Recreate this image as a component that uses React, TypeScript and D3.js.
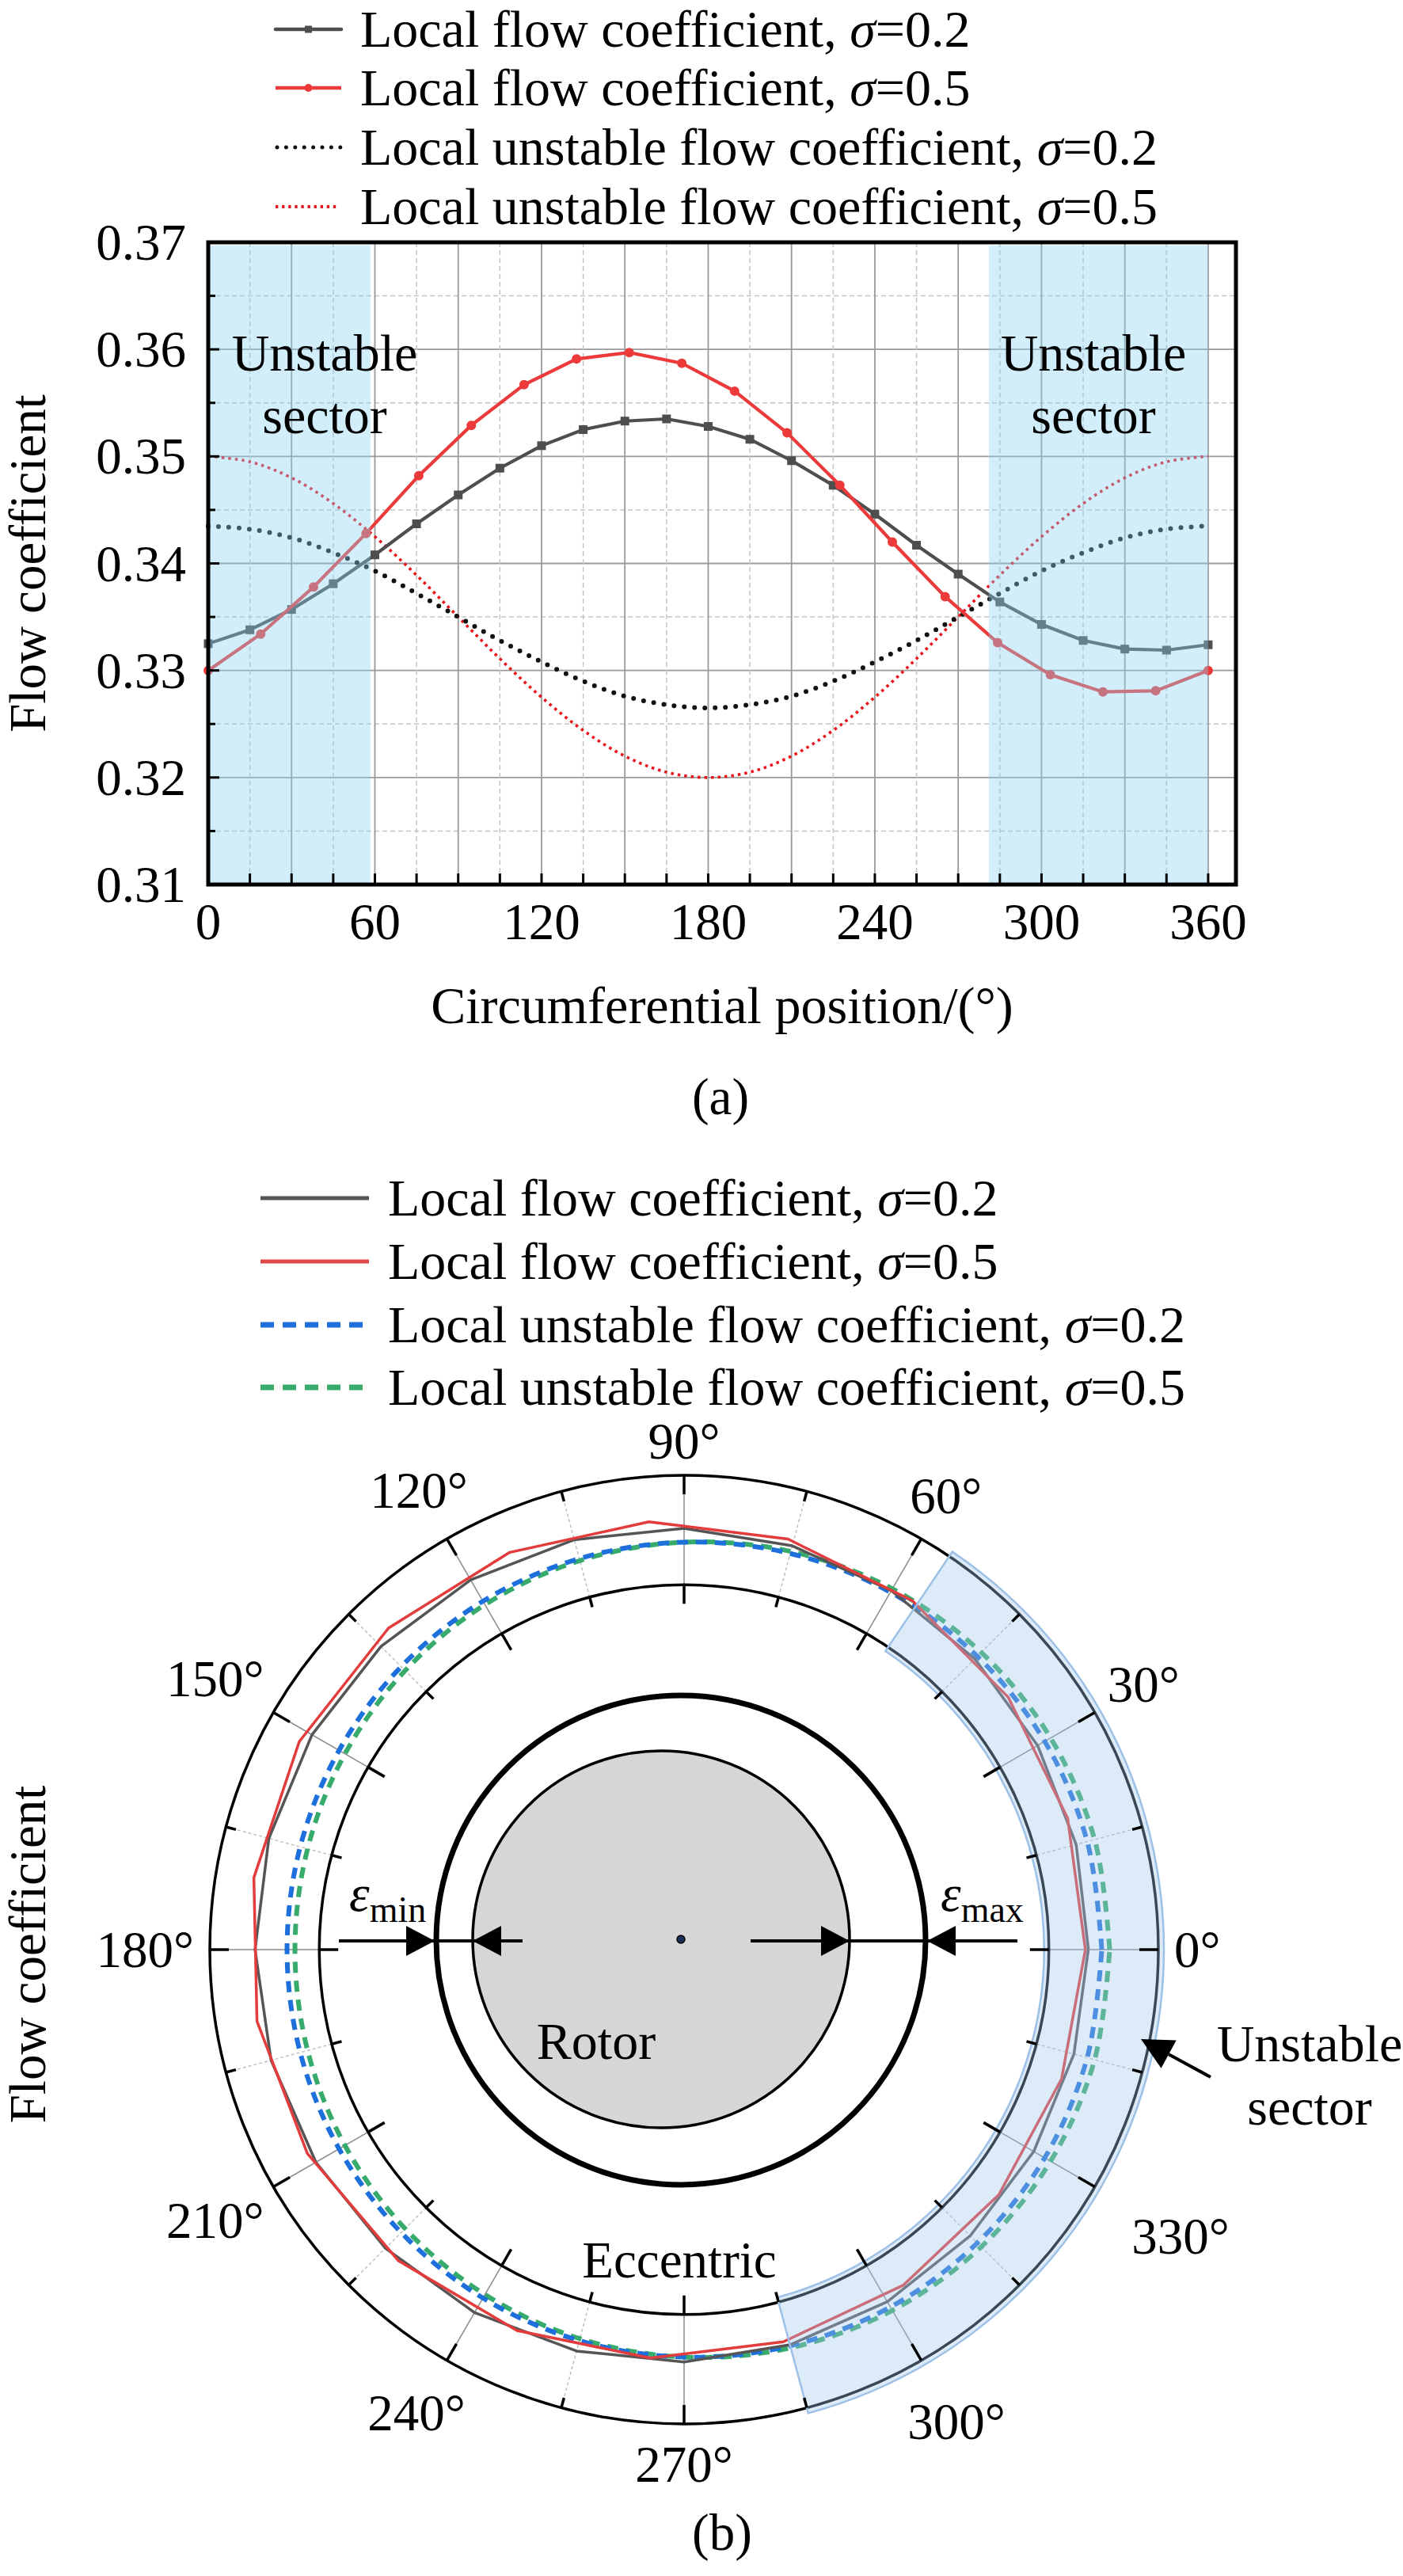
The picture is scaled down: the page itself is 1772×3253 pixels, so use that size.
import React from 'react';
import * as d3 from 'd3';

const FONT = "'Liberation Serif','Times New Roman',Times,serif";

// ---------- data ----------
const posStep15 = [0, 15, 30, 45, 60, 75, 90, 105, 120, 135, 150, 165, 180, 195, 210, 225, 240, 255, 270, 285, 300, 315, 330, 345, 360];
const posRed = [0, 18.9, 37.9, 56.8, 75.8, 94.7, 113.7, 132.6, 151.6, 170.5, 189.5, 208.4, 227.4, 246.3, 265.3, 284.2, 303.2, 322.1, 341.1, 360];
const flowSigma02 = [0.3325, 0.3338, 0.3357, 0.3381, 0.3408, 0.3437, 0.3464, 0.3489, 0.3510, 0.3525, 0.3533, 0.3535, 0.3528, 0.3516, 0.3496, 0.3473, 0.3446, 0.3417, 0.3390, 0.3364, 0.3343, 0.3328, 0.3320, 0.3319, 0.3324];
const flowSigma05 = [0.3300, 0.3334, 0.3378, 0.3428, 0.3482, 0.3529, 0.3567, 0.3591, 0.3597, 0.3587, 0.3561, 0.3522, 0.3473, 0.3420, 0.3369, 0.3326, 0.3296, 0.3280, 0.3281, 0.3300];
const unstableSigma02 = [0.3435, 0.3432, 0.3424, 0.3410, 0.3393, 0.3372, 0.3350, 0.3328, 0.3308, 0.3290, 0.3276, 0.3268, 0.3265, 0.3268, 0.3276, 0.3290, 0.3308, 0.3328, 0.3350, 0.3372, 0.3393, 0.3410, 0.3424, 0.3432, 0.3435];
const unstableSigma05 = [0.3500, 0.3495, 0.3480, 0.3456, 0.3425, 0.3389, 0.3350, 0.3311, 0.3275, 0.3244, 0.3220, 0.3205, 0.3200, 0.3205, 0.3220, 0.3244, 0.3275, 0.3311, 0.3350, 0.3389, 0.3425, 0.3456, 0.3480, 0.3495, 0.3500];

const yTicksA = [0.31, 0.32, 0.33, 0.34, 0.35, 0.36, 0.37];
const xTicksA = [0, 60, 120, 180, 240, 300, 360];
const sectorsA = [[0, 58.4], [281, 360]];
const sectorB = [-75, 56];
const polarLabelAngles = [0, 30, 60, 90, 120, 150, 180, 210, 240, 270, 300, 330];
const legendLabelsA = ['Local flow coefficient, ', 'Local flow coefficient, ', 'Local unstable flow coefficient, ', 'Local unstable flow coefficient, '];
const legendSigmas = ['0.2', '0.5', '0.2', '0.5'];

// ---------- layout ----------
const W = 1772;
const H = 3253;
const FS = 65;
const A = { left: 263, right: 1561, top: 306, bottom: 1117 };
const P = { cx: 864, cy: 2462, rOuter: 599 };

const C_BLACK = '#4e4e4e';
const C_RED = '#ec3a3a';
const C_BLUE = '#1d6fdb';
const C_GREEN = '#36ab6c';

const xA = d3.scaleLinear().domain([0, 370]).range([A.left, A.right]);
const yA = d3.scaleLinear().domain([0.31, 0.37]).range([A.bottom, A.top]);
const rP = d3.scaleLinear().domain([0, 0.39]).range([0, P.rOuter]);
const rInner = rP(0.30);

const toPairs = (xs: number[], ys: number[]) => xs.map((x, i) => [x, ys[i]] as [number, number]);

function LegendText({ x, y, label, sigma }: { x: number; y: number; label: string; sigma: string }) {
  return (
    <text x={x} y={y + 22} fontFamily={FONT} fontSize={66} fill="#000">
      {label}
      <tspan fontStyle="italic">σ</tspan>
      {'=' + sigma}
    </text>
  );
}

function ChartA() {
  const lineLin = d3.line<[number, number]>().x(d => xA(d[0])).y(d => yA(d[1]));
  const lineSmooth = d3.line<[number, number]>().x(d => xA(d[0])).y(d => yA(d[1])).curve(d3.curveCatmullRom);
  const blackPts = toPairs(posStep15, flowSigma02);
  const redPts = toPairs(posRed, flowSigma05);
  const majorY = [0.32, 0.33, 0.34, 0.35, 0.36];
  const minorY = [0.315, 0.325, 0.335, 0.345, 0.355, 0.365];
  const gridX = d3.range(15, 361, 15);
  const tickX = d3.range(0, 361, 15);
  const tickY = d3.range(0.31, 0.3701, 0.005);
  const legendRows = [37, 111, 186, 261];
  const lx0 = 348, lx1 = 431, ltx = 455;
  return (
    <g>
      {/* legend */}
      {legendRows.map((ly, i) => (
        <g key={i}>
          {i === 0 && <g><line x1={lx0} x2={lx1} y1={ly} y2={ly} stroke={C_BLACK} strokeWidth={4.5} strokeLinecap="round" /><rect x={(lx0 + lx1) / 2 - 4.5} y={ly - 4.5} width={9} height={9} fill={C_BLACK} /></g>}
          {i === 1 && <g><line x1={lx0} x2={lx1} y1={ly} y2={ly} stroke={C_RED} strokeWidth={4.5} /><circle cx={(lx0 + lx1) / 2} cy={ly} r={5} fill={C_RED} /></g>}
          {i === 2 && <line x1={lx0 + 2} x2={lx1} y1={ly} y2={ly} stroke="#111" strokeWidth={5} strokeDasharray="0 11.4" strokeLinecap="round" />}
          {i === 3 && <line x1={lx0} x2={lx1 - 6} y1={ly} y2={ly} stroke="#e8141c" strokeWidth={4} strokeDasharray="3.3 4.8" />}
          <LegendText x={ltx} y={ly} label={legendLabelsA[i]} sigma={legendSigmas[i]} />
        </g>
      ))}
      {/* grid */}
      {minorY.map(v => <line key={'my' + v} x1={A.left} x2={A.right} y1={yA(v)} y2={yA(v)} stroke="#c4c4c4" strokeWidth={1.5} strokeDasharray="6 4" />)}
      {majorY.map(v => <line key={'My' + v} x1={A.left} x2={A.right} y1={yA(v)} y2={yA(v)} stroke="#9a9a9a" strokeWidth={1.8} />)}
      {gridX.map(v => (
        <line key={'gx' + v} x1={xA(v)} x2={xA(v)} y1={A.top} y2={A.bottom}
          stroke={v % 30 === 0 ? '#9a9a9a' : '#c4c4c4'} strokeWidth={v % 30 === 0 ? 1.8 : 1.5}
          strokeDasharray={v % 30 === 0 ? undefined : '6 4'} />
      ))}
      {/* dotted unstable curves */}
      <path d={lineSmooth(toPairs(posStep15, unstableSigma05)) || ''} fill="none" stroke="#e8141c" strokeWidth={3.6} strokeDasharray="3.5 5" />
      <path d={lineSmooth(toPairs(posStep15, unstableSigma02)) || ''} fill="none" stroke="#111" strokeWidth={6} strokeDasharray="0 13" strokeLinecap="round" />
      {/* solid series */}
      <path d={lineLin(blackPts) || ''} fill="none" stroke={C_BLACK} strokeWidth={4.2} />
      {blackPts.map((d, i) => <rect key={'bs' + i} x={xA(d[0]) - 5.5} y={yA(d[1]) - 5.5} width={11} height={11} fill={C_BLACK} />)}
      <path d={lineLin(redPts) || ''} fill="none" stroke={C_RED} strokeWidth={4.2} />
      {redPts.map((d, i) => <circle key={'rc' + i} cx={xA(d[0])} cy={yA(d[1])} r={6} fill={C_RED} />)}
      {/* unstable sectors */}
      {sectorsA.map((s, i) => (
        <rect key={'sa' + i} x={xA(s[0])} y={A.top + 4} width={xA(s[1]) - xA(s[0])} height={A.bottom - A.top - 6}
          fill="#8cd2f4" fillOpacity={0.38} />
      ))}
      {sectorsA.map((s, i) => {
        const cx = i === 0 ? 410 : 1381;
        return (
          <g key={'st' + i} fontFamily={FONT} fontSize={66} textAnchor="middle">
            <text x={cx} y={468}>Unstable</text>
            <text x={cx} y={547}>sector</text>
          </g>
        );
      })}
      {/* ticks */}
      {tickX.map(v => <line key={'tx' + v} x1={xA(v)} x2={xA(v)} y1={A.bottom} y2={A.bottom - 14} stroke="#000" strokeWidth={3} />)}
      {tickY.map((v, i) => <line key={'ty' + i} x1={A.left} x2={A.left + (i % 2 === 0 ? 14 : 9)} y1={yA(v)} y2={yA(v)} stroke="#000" strokeWidth={3} />)}
      {/* frame */}
      <rect x={A.left} y={A.top} width={A.right - A.left} height={A.bottom - A.top} fill="none" stroke="#000" strokeWidth={5} />
      {/* tick labels */}
      {yTicksA.map(v => (
        <text key={'yl' + v} x={235} y={yA(v) + 22} textAnchor="end" fontFamily={FONT} fontSize={FS}>{v.toFixed(2)}</text>
      ))}
      {xTicksA.map(v => (
        <text key={'xl' + v} x={xA(v)} y={1186} textAnchor="middle" fontFamily={FONT} fontSize={FS}>{v}</text>
      ))}
      <text transform={`translate(57,${(A.top + A.bottom) / 2}) rotate(-90)`} textAnchor="middle" fontFamily={FONT} fontSize={FS}>Flow coefficient</text>
      <text x={(A.left + A.right) / 2} y={1292} textAnchor="middle" fontFamily={FONT} fontSize={66}>Circumferential position/(°)</text>
      <text x={910} y={1407} textAnchor="middle" fontFamily={FONT} fontSize={FS}>(a)</text>
    </g>
  );
}

function ChartB() {
  const deg = Math.PI / 180;
  const radial = d3.lineRadial<[number, number]>().angle(d => (90 - d[0]) * deg).radius(d => rP(d[1]));
  const radialSmooth = d3.lineRadial<[number, number]>().angle(d => (90 - d[0]) * deg).radius(d => rP(d[1])).curve(d3.curveCatmullRom);
  const tickAngles = d3.range(0, 360, 15);
  const arc = d3.arc()({ innerRadius: rInner - 6, outerRadius: P.rOuter + 7, startAngle: (90 - sectorB[1]) * deg, endAngle: (90 - sectorB[0]) * deg } as any) || '';
  const legendRows = [1513, 1593, 1673, 1752];
  const lx0 = 329, lx1 = 466, ltx = 490;
  const labelTweak: Record<number, number> = { 240: 6, 270: 8, 300: 18, 330: 40 };

  // eccentric sketch geometry
  const casing = { cx: 860, cy: 2450, r: 309 };
  const rotor = { cx: 835, cy: 2449, r: 238 };
  const ay = 2451;
  const head = (tipX: number, dir: number, y: number) => `M${tipX},${y}L${tipX - dir * 36},${y - 19}L${tipX - dir * 36},${y + 19}Z`;
  const casL = casing.cx - casing.r + 1, casR = casing.cx + casing.r - 1;
  const rotL = rotor.cx - rotor.r, rotR = rotor.cx + rotor.r;

  // unstable arrow
  const tip = [1441, 2575], tail = [1529, 2623];
  const ang = Math.atan2(tip[1] - tail[1], tip[0] - tail[0]);
  const hl = 40, hw = 20;
  const bx = tip[0] - hl * Math.cos(ang), by = tip[1] - hl * Math.sin(ang);
  const arrowHead = `M${tip[0]},${tip[1]}L${bx + hw * Math.sin(ang)},${by - hw * Math.cos(ang)}L${bx - hw * Math.sin(ang)},${by + hw * Math.cos(ang)}Z`;

  return (
    <g>
      {/* legend */}
      {legendRows.map((ly, i) => (
        <g key={i}>
          {i === 0 && <line x1={lx0} x2={lx1} y1={ly} y2={ly} stroke="#555" strokeWidth={5} />}
          {i === 1 && <line x1={lx0} x2={lx1} y1={ly} y2={ly} stroke="#e04848" strokeWidth={5} />}
          {i === 2 && <line x1={lx0} x2={lx1} y1={ly} y2={ly} stroke={C_BLUE} strokeWidth={7} strokeDasharray="17 11" />}
          {i === 3 && <line x1={lx0} x2={lx1} y1={ly} y2={ly} stroke={C_GREEN} strokeWidth={7} strokeDasharray="17 11" />}
          <LegendText x={ltx} y={ly} label={legendLabelsA[i]} sigma={legendSigmas[i]} />
        </g>
      ))}
      <g transform={`translate(${P.cx},${P.cy})`}>
        {/* radial grid lines */}
        {tickAngles.map(a => {
          const c = Math.cos(a * deg), s = -Math.sin(a * deg);
          const major = a % 30 === 0;
          return <line key={'rg' + a} x1={rInner * c} y1={rInner * s} x2={P.rOuter * c} y2={P.rOuter * s}
            stroke={major ? '#8a8a8a' : '#bdbdbd'} strokeWidth={major ? 1.5 : 1.4} strokeDasharray={major ? undefined : '4 3'} />;
        })}
        <circle r={P.rOuter} fill="none" stroke="#000" strokeWidth={3.5} />
        <circle r={rInner} fill="none" stroke="#000" strokeWidth={3.5} />
        {/* data */}
        <path d={radialSmooth(toPairs(posStep15, unstableSigma05)) || ''} fill="none" stroke={C_GREEN} strokeWidth={6} strokeDasharray="14 10" />
        <path d={radialSmooth(toPairs(posStep15, unstableSigma02)) || ''} fill="none" stroke={C_BLUE} strokeWidth={6} strokeDasharray="14 10" />
        <path d={radial(toPairs(posStep15, flowSigma02)) || ''} fill="none" stroke="#555" strokeWidth={3.5} strokeLinejoin="round" />
        <path d={radial(toPairs(posRed, flowSigma05)) || ''} fill="none" stroke="#e23c3c" strokeWidth={3.5} strokeLinejoin="round" />
        {/* unstable sector */}
        <path d={arc} fill="#a2c6ea" fillOpacity={0.36} stroke="#9dc1e6" strokeWidth={2.5} />
        {/* ticks */}
        {tickAngles.map(a => {
          const c = Math.cos(a * deg), s = -Math.sin(a * deg);
          const len = a % 30 === 0 ? 24 : 13;
          return (
            <g key={'tk' + a} stroke="#000" strokeWidth={3.5}>
              <line x1={P.rOuter * c} y1={P.rOuter * s} x2={(P.rOuter - len) * c} y2={(P.rOuter - len) * s} />
              <line x1={rInner * c} y1={rInner * s} x2={(rInner - len) * c} y2={(rInner - len) * s} />
            </g>
          );
        })}
        {/* angle labels */}
        {polarLabelAngles.map(a => {
          const label = `${a}°`;
          const w = (String(a).length * 0.5 + 0.4) * FS;
          const h = 46;
          const c = Math.cos(a * deg), s = Math.sin(a * deg);
          const d = P.rOuter + 20 + (w / 2) * Math.abs(c) + (h / 2) * Math.abs(s) + (labelTweak[a] || 0);
          return <text key={'pl' + a} x={d * c} y={-d * s + 22} textAnchor="middle" fontFamily={FONT} fontSize={FS}>{label}</text>;
        })}
      </g>
      {/* eccentric sketch */}
      <circle cx={casing.cx} cy={casing.cy} r={casing.r} fill="none" stroke="#000" strokeWidth={7} />
      <circle cx={rotor.cx} cy={rotor.cy} r={rotor.r} fill="#d6d6d6" stroke="#000" strokeWidth={3.5} />
      <circle cx={860} cy={2449} r={5} fill="#1d2e55" stroke="#000" strokeWidth={1.5} />
      <line x1={428} x2={660} y1={ay} y2={ay} stroke="#000" strokeWidth={4} />
      <path d={head(casL - 3, 1, ay)} fill="#000" />
      <path d={head(rotL, -1, ay)} fill="#000" />
      <line x1={948} x2={1285} y1={ay} y2={ay} stroke="#000" strokeWidth={4} />
      <path d={head(rotR, 1, ay)} fill="#000" />
      <path d={head(casR + 3, -1, ay)} fill="#000" />
      <text x={441} y={2413} fontFamily={FONT} fontSize={FS}>
        <tspan fontStyle="italic">ε</tspan>
        <tspan fontSize={46} dy={14}>min</tspan>
      </text>
      <text x={1188} y={2413} fontFamily={FONT} fontSize={FS}>
        <tspan fontStyle="italic">ε</tspan>
        <tspan fontSize={46} dy={14}>max</tspan>
      </text>
      <text x={753} y={2600} textAnchor="middle" fontFamily={FONT} fontSize={66}>Rotor</text>
      <text x={858} y={2876} textAnchor="middle" fontFamily={FONT} fontSize={65}>Eccentric</text>
      {/* unstable sector annotation */}
      <line x1={tail[0]} y1={tail[1]} x2={bx} y2={by} stroke="#000" strokeWidth={4} />
      <path d={arrowHead} fill="#000" />
      <g fontFamily={FONT} fontSize={66} textAnchor="middle">
        <text x={1654} y={2603}>Unstable</text>
        <text x={1654} y={2683}>sector</text>
      </g>
      <text transform={`translate(57,2468) rotate(-90)`} textAnchor="middle" fontFamily={FONT} fontSize={FS}>Flow coefficient</text>
      <text x={912} y={3220} textAnchor="middle" fontFamily={FONT} fontSize={FS}>(b)</text>
    </g>
  );
}

export default function App() {
  return (
    <svg width={W} height={H} viewBox={`0 0 ${W} ${H}`} style={{ position: 'absolute', left: 0, top: 0, background: '#fff' }}
      xmlns="http://www.w3.org/2000/svg">
      <rect width={W} height={H} fill="#fff" />
      <ChartA />
      <ChartB />
    </svg>
  );
}
